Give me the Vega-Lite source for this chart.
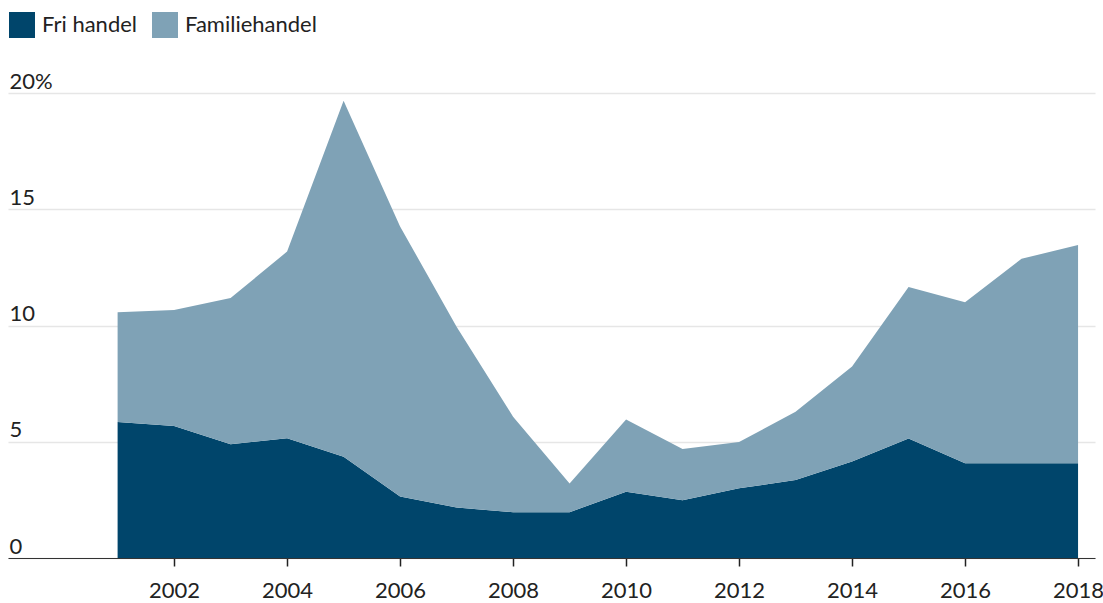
{
  "$schema": "https://vega.github.io/schema/vega-lite/v6.json",
  "width": 1087,
  "height": 465,
  "autosize": {"type": "none"},
  "padding": {"left": 8, "top": 93, "right": 8, "bottom": 45},
  "background": "white",
  "config": {
    "font": "Lato",
    "view": {"stroke": null},
    "axis": {"labelFont": "Lato", "labelColor": "#222", "labelFontSize": 22}
  },
  "data": {
    "values": [
      {"year": 2001, "type": "Fri handel", "value": 5.85},
      {"year": 2002, "type": "Fri handel", "value": 5.68},
      {"year": 2003, "type": "Fri handel", "value": 4.89},
      {"year": 2004, "type": "Fri handel", "value": 5.15},
      {"year": 2005, "type": "Fri handel", "value": 4.36},
      {"year": 2006, "type": "Fri handel", "value": 2.64},
      {"year": 2007, "type": "Fri handel", "value": 2.17},
      {"year": 2008, "type": "Fri handel", "value": 1.97},
      {"year": 2009, "type": "Fri handel", "value": 1.97},
      {"year": 2010, "type": "Fri handel", "value": 2.85},
      {"year": 2011, "type": "Fri handel", "value": 2.48},
      {"year": 2012, "type": "Fri handel", "value": 3.0},
      {"year": 2013, "type": "Fri handel", "value": 3.35},
      {"year": 2014, "type": "Fri handel", "value": 4.15},
      {"year": 2015, "type": "Fri handel", "value": 5.14},
      {"year": 2016, "type": "Fri handel", "value": 4.07},
      {"year": 2017, "type": "Fri handel", "value": 4.07},
      {"year": 2018, "type": "Fri handel", "value": 4.07},
      {"year": 2001, "type": "Familiehandel", "value": 4.72},
      {"year": 2002, "type": "Familiehandel", "value": 4.99},
      {"year": 2003, "type": "Familiehandel", "value": 6.29},
      {"year": 2004, "type": "Familiehandel", "value": 8.03},
      {"year": 2005, "type": "Familiehandel", "value": 15.31},
      {"year": 2006, "type": "Familiehandel", "value": 11.62},
      {"year": 2007, "type": "Familiehandel", "value": 7.78},
      {"year": 2008, "type": "Familiehandel", "value": 4.11},
      {"year": 2009, "type": "Familiehandel", "value": 1.23},
      {"year": 2010, "type": "Familiehandel", "value": 3.11},
      {"year": 2011, "type": "Familiehandel", "value": 2.21},
      {"year": 2012, "type": "Familiehandel", "value": 1.99},
      {"year": 2013, "type": "Familiehandel", "value": 2.94},
      {"year": 2014, "type": "Familiehandel", "value": 4.09},
      {"year": 2015, "type": "Familiehandel", "value": 6.52},
      {"year": 2016, "type": "Familiehandel", "value": 6.93},
      {"year": 2017, "type": "Familiehandel", "value": 8.8},
      {"year": 2018, "type": "Familiehandel", "value": 9.39}
    ]
  },
  "transform": [
    {"calculate": "datum.type === 'Fri handel' ? 0 : 1", "as": "ord"}
  ],
  "mark": {"type": "area", "interpolate": "linear", "opacity": 1},
  "encoding": {
    "x": {
      "field": "year",
      "type": "quantitative",
      "scale": {"domain": [1999.06, 2018.3], "nice": false, "zero": false},
      "axis": {
        "title": null,
        "values": [2002, 2004, 2006, 2008, 2010, 2012, 2014, 2016, 2018],
        "format": "d",
        "grid": false,
        "domainColor": "#333",
        "domainWidth": 1.2,
        "tickColor": "#222",
        "tickWidth": 1.5,
        "tickSize": 8,
        "labelPadding": 14
      }
    },
    "y": {
      "field": "value",
      "type": "quantitative",
      "stack": "zero",
      "scale": {"domain": [0, 20], "nice": false},
      "axis": {
        "title": null,
        "values": [0, 5, 10, 15, 20],
        "labelExpr": "datum.value === 20 ? '20%' : datum.label",
        "domain": false,
        "ticks": false,
        "grid": true,
        "gridColor": "#e6e6e6",
        "gridWidth": 1.5,
        "labelAlign": "left",
        "labelBaseline": "bottom",
        "labelPadding": -1,
        "labelDy": -7
      }
    },
    "color": {
      "field": "type",
      "type": "nominal",
      "scale": {"domain": ["Fri handel", "Familiehandel"], "range": ["#00456b", "#7fa2b6"]},
      "legend": {
        "title": null,
        "orient": "none",
        "legendX": 1,
        "legendY": -81,
        "direction": "horizontal",
        "symbolType": "square",
        "symbolSize": 676,
        "symbolStrokeWidth": 0,
        "labelFontSize": 22,
        "labelColor": "#222",
        "labelFont": "Lato",
        "columnPadding": 14,
        "labelOffset": 7
      }
    },
    "order": {"field": "ord", "type": "quantitative"}
  }
}
